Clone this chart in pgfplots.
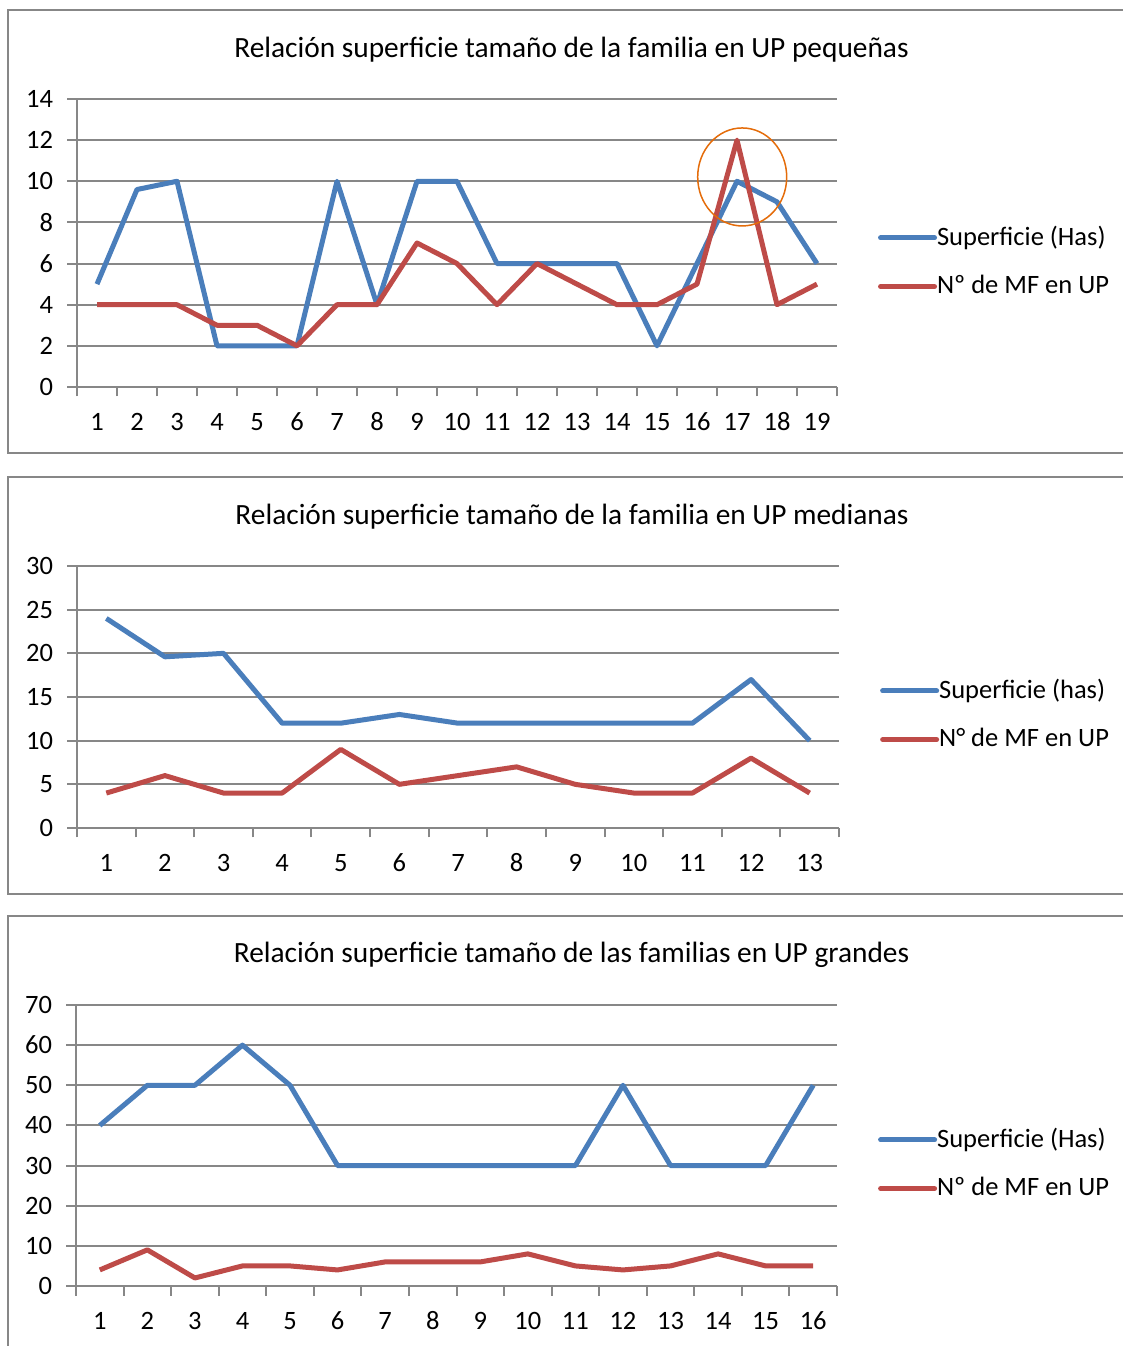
\documentclass[border=0pt]{standalone}
\usepackage{fontspec}
\setmainfont{Carlito}
\usepackage{pgfplots}
\pgfplotsset{compat=1.18}

\definecolor{supblue}{HTML}{4A7EBB}
\definecolor{mfred}{HTML}{BE4B48}
\definecolor{gridgray}{HTML}{878787}
\definecolor{ringorange}{HTML}{E46C0A}

\newcommand\labelfont{\fontsize{10.6pt}{12.5pt}\selectfont}
\newcommand\titlefont{\fontsize{11.75pt}{14pt}\selectfont}

\pgfplotsset{
  xlchart/.style={
    scale only axis,
    anchor=south west,
    axis x line*=bottom,
    axis y line*=left,
    axis line style={gridgray, line width=0.8pt, -},
    ymajorgrids,
    major grid style={gridgray, line width=0.8pt},
    tick align=outside,
    major tick length=3.8pt,
    tick style={gridgray, line width=0.8pt},
    x tick label as interval,
    clip=false,
    /pgf/number format/assume math mode=true,
    tick label style={font=\labelfont, text=black},
    xticklabel style={anchor=north, inner sep=0pt, text height=0.64em, text depth=0pt, yshift=-7pt},
    yticklabel style={anchor=east, inner sep=0pt, xshift=-5.6pt},
    legend cell align=left,
    legend style={
      draw=none, fill=none, anchor=west, inner sep=0pt, outer sep=0pt,
      row sep=10.4pt, column sep=0pt,
      font=\labelfont,
      nodes={inner sep=0pt},
    },
    legend image code/.code={\draw[##1, line cap=round] (0pt,0pt) -- (21.6pt,0pt);},
    every axis plot/.append style={line width=2pt, line join=round, mark=none},
  },
}

\begin{document}
\begin{tikzpicture}
\clip (0,0) rectangle (449.2pt,538.4pt);

% chart frames
\draw[gridgray, line width=0.8pt] (3.2pt,534.4pt) rectangle (454pt,357.2pt);
\draw[gridgray, line width=0.8pt] (3.2pt,347.6pt) rectangle (454pt,180.8pt);
\draw[gridgray, line width=0.8pt] (3.2pt,172pt) rectangle (454pt,-5.6pt);

% titles
\node[font=\titlefont] at (228.6pt,518.4pt)
  {Relación superficie tamaño de la familia en UP pequeñas};
\node[font=\titlefont] at (228.8pt,331.6pt)
  {Relación superficie tamaño de la familia en UP medianas};
\node[font=\titlefont] at (228.6pt,156.4pt)
  {Relación superficie tamaño de las familias en UP grandes};

% small farms
\begin{axis}[xlchart,
  at={(30.8pt,383.6pt)}, width=304pt, height=115.2pt,
  xmin=0.5, xmax=19.5, ymin=0, ymax=14,
  xtick={0.5,1.5,...,19.5},
  xticklabels={1,2,3,4,5,6,7,8,9,10,11,12,13,14,15,16,17,18,19},
  ytick={0,2,...,14},
  legend style={at={(1.054,0.434)}},
]
\addplot[supblue] coordinates {
  (1,5) (2,9.6) (3,10) (4,2) (5,2) (6,2) (7,10) (8,4) (9,10) (10,10)
  (11,6) (12,6) (13,6) (14,6) (15,2) (16,6) (17,10) (18,9) (19,6)};
\addlegendentry{Superficie (Has)}
\addplot[mfred] coordinates {
  (1,4) (2,4) (3,4) (4,3) (5,3) (6,2) (7,4) (8,4) (9,7) (10,6)
  (11,4) (12,6) (13,5) (14,4) (15,4) (16,5) (17,12) (18,4) (19,5)};
\addlegendentry{Nº de MF en UP}
\draw[ringorange, line width=0.6pt] (axis cs:17.13,10.21) ellipse [x radius=17.8pt, y radius=19.6pt];
\end{axis}

% medium farms
\begin{axis}[xlchart,
  at={(30.8pt,207.2pt)}, width=304.8pt, height=104.8pt,
  xmin=0.5, xmax=13.5, ymin=0, ymax=30,
  xtick={0.5,1.5,...,13.5},
  xticklabels={1,2,3,4,5,6,7,8,9,10,11,12,13},
  ytick={0,5,...,30},
  legend style={at={(1.054,0.431)}},
]
\addplot[supblue] coordinates {
  (1,24) (2,19.6) (3,20) (4,12) (5,12) (6,13) (7,12) (8,12) (9,12)
  (10,12) (11,12) (12,17) (13,10)};
\addlegendentry{Superficie (has)}
\addplot[mfred] coordinates {
  (1,4) (2,6) (3,4) (4,4) (5,9) (6,5) (7,6) (8,7) (9,5)
  (10,4) (11,4) (12,8) (13,4)};
\addlegendentry{N° de MF en UP}
\end{axis}

% large farms
\begin{axis}[xlchart,
  at={(30.4pt,24pt)}, width=304.4pt, height=112.4pt,
  xmin=0.5, xmax=16.5, ymin=0, ymax=70,
  xtick={0.5,1.5,...,16.5},
  xticklabels={1,2,3,4,5,6,7,8,9,10,11,12,13,14,15,16},
  ytick={0,10,...,70},
  legend style={at={(1.054,0.434)}},
]
\addplot[supblue] coordinates {
  (1,40) (2,50) (3,50) (4,60) (5,50) (6,30) (7,30) (8,30) (9,30)
  (10,30) (11,30) (12,50) (13,30) (14,30) (15,30) (16,50)};
\addlegendentry{Superficie (Has)}
\addplot[mfred] coordinates {
  (1,4) (2,9) (3,2) (4,5) (5,5) (6,4) (7,6) (8,6) (9,6)
  (10,8) (11,5) (12,4) (13,5) (14,8) (15,5) (16,5)};
\addlegendentry{Nº de MF en UP}
\end{axis}
\end{tikzpicture}
\end{document}
